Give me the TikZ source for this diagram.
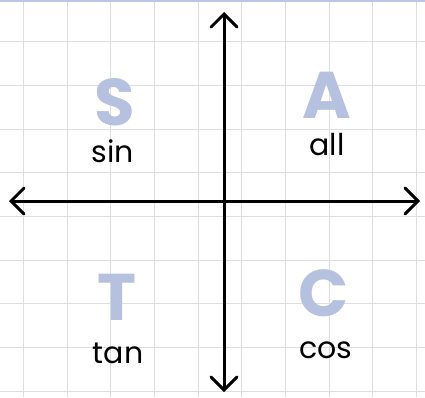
\documentclass[tikz,border=0pt]{standalone}
\usepackage{fontspec}
\setmainfont{Poppins}
\usetikzlibrary{arrows.meta}
\definecolor{gridc}{HTML}{DEDEE2}
\definecolor{letc}{HTML}{B5C1DE}
\definecolor{topc}{HTML}{BCC6E4}
\tikzset{
  x=1pt,y=1pt,
  gridline/.style={draw=gridc, line width=1pt},
  axis/.style={line width=3pt, line cap=round, line join=round,
    {Straight Barb[length=13pt,width=26pt,line cap=round]}-{Straight Barb[length=13pt,width=26pt,line cap=round]}},
  bigletter/.style={text=letc, font=\fontsize{66}{66}\selectfont\bfseries, inner sep=0pt, text depth=0pt, text height=0.7em, anchor=base},
  trig/.style={text=black, font=\fontsize{30}{30}\selectfont, inner sep=0pt, text height=0.7em, text depth=0pt, anchor=base}
}
\begin{document}
\begin{tikzpicture}
\useasboundingbox (0,0) rectangle (425,397);
\fill[white] (0,0) rectangle (425,397);
% grid
\foreach \i in {0,...,9} {
  \draw[gridline] ({23.3+43.7*\i},0) -- ({23.3+43.7*\i},397);
}
\foreach \j in {0,...,8} {
  \draw[gridline] (0,{397-41.7-43.7*\j}) -- (425,{397-41.7-43.7*\j});
}
\fill[topc] (0,395) rectangle (425,397);
% axes
\coordinate (xl) at (9,196);
\coordinate (xr) at (420,196);
\coordinate (yt) at (224,385);
\coordinate (yb) at (224,5);
\draw[axis] (xl) -- (xr);
\draw[axis] (yb) -- (yt);
% quadrant letters
\node[bigletter] (S) at (115,272) {S};
\node[bigletter] (A) at (327,279) {A};
\node[bigletter] (T) at (117,77) {T};
\node[bigletter] (C) at (324,81) {C};
% labels
\node[trig] (sin) at (113,235) {sin};
\node[trig] (all) at (327,242) {all};
\node[trig] (tan) at (118,34) {tan};
\node[trig] (cos) at (326,39) {cos};
\end{tikzpicture}
\end{document}
